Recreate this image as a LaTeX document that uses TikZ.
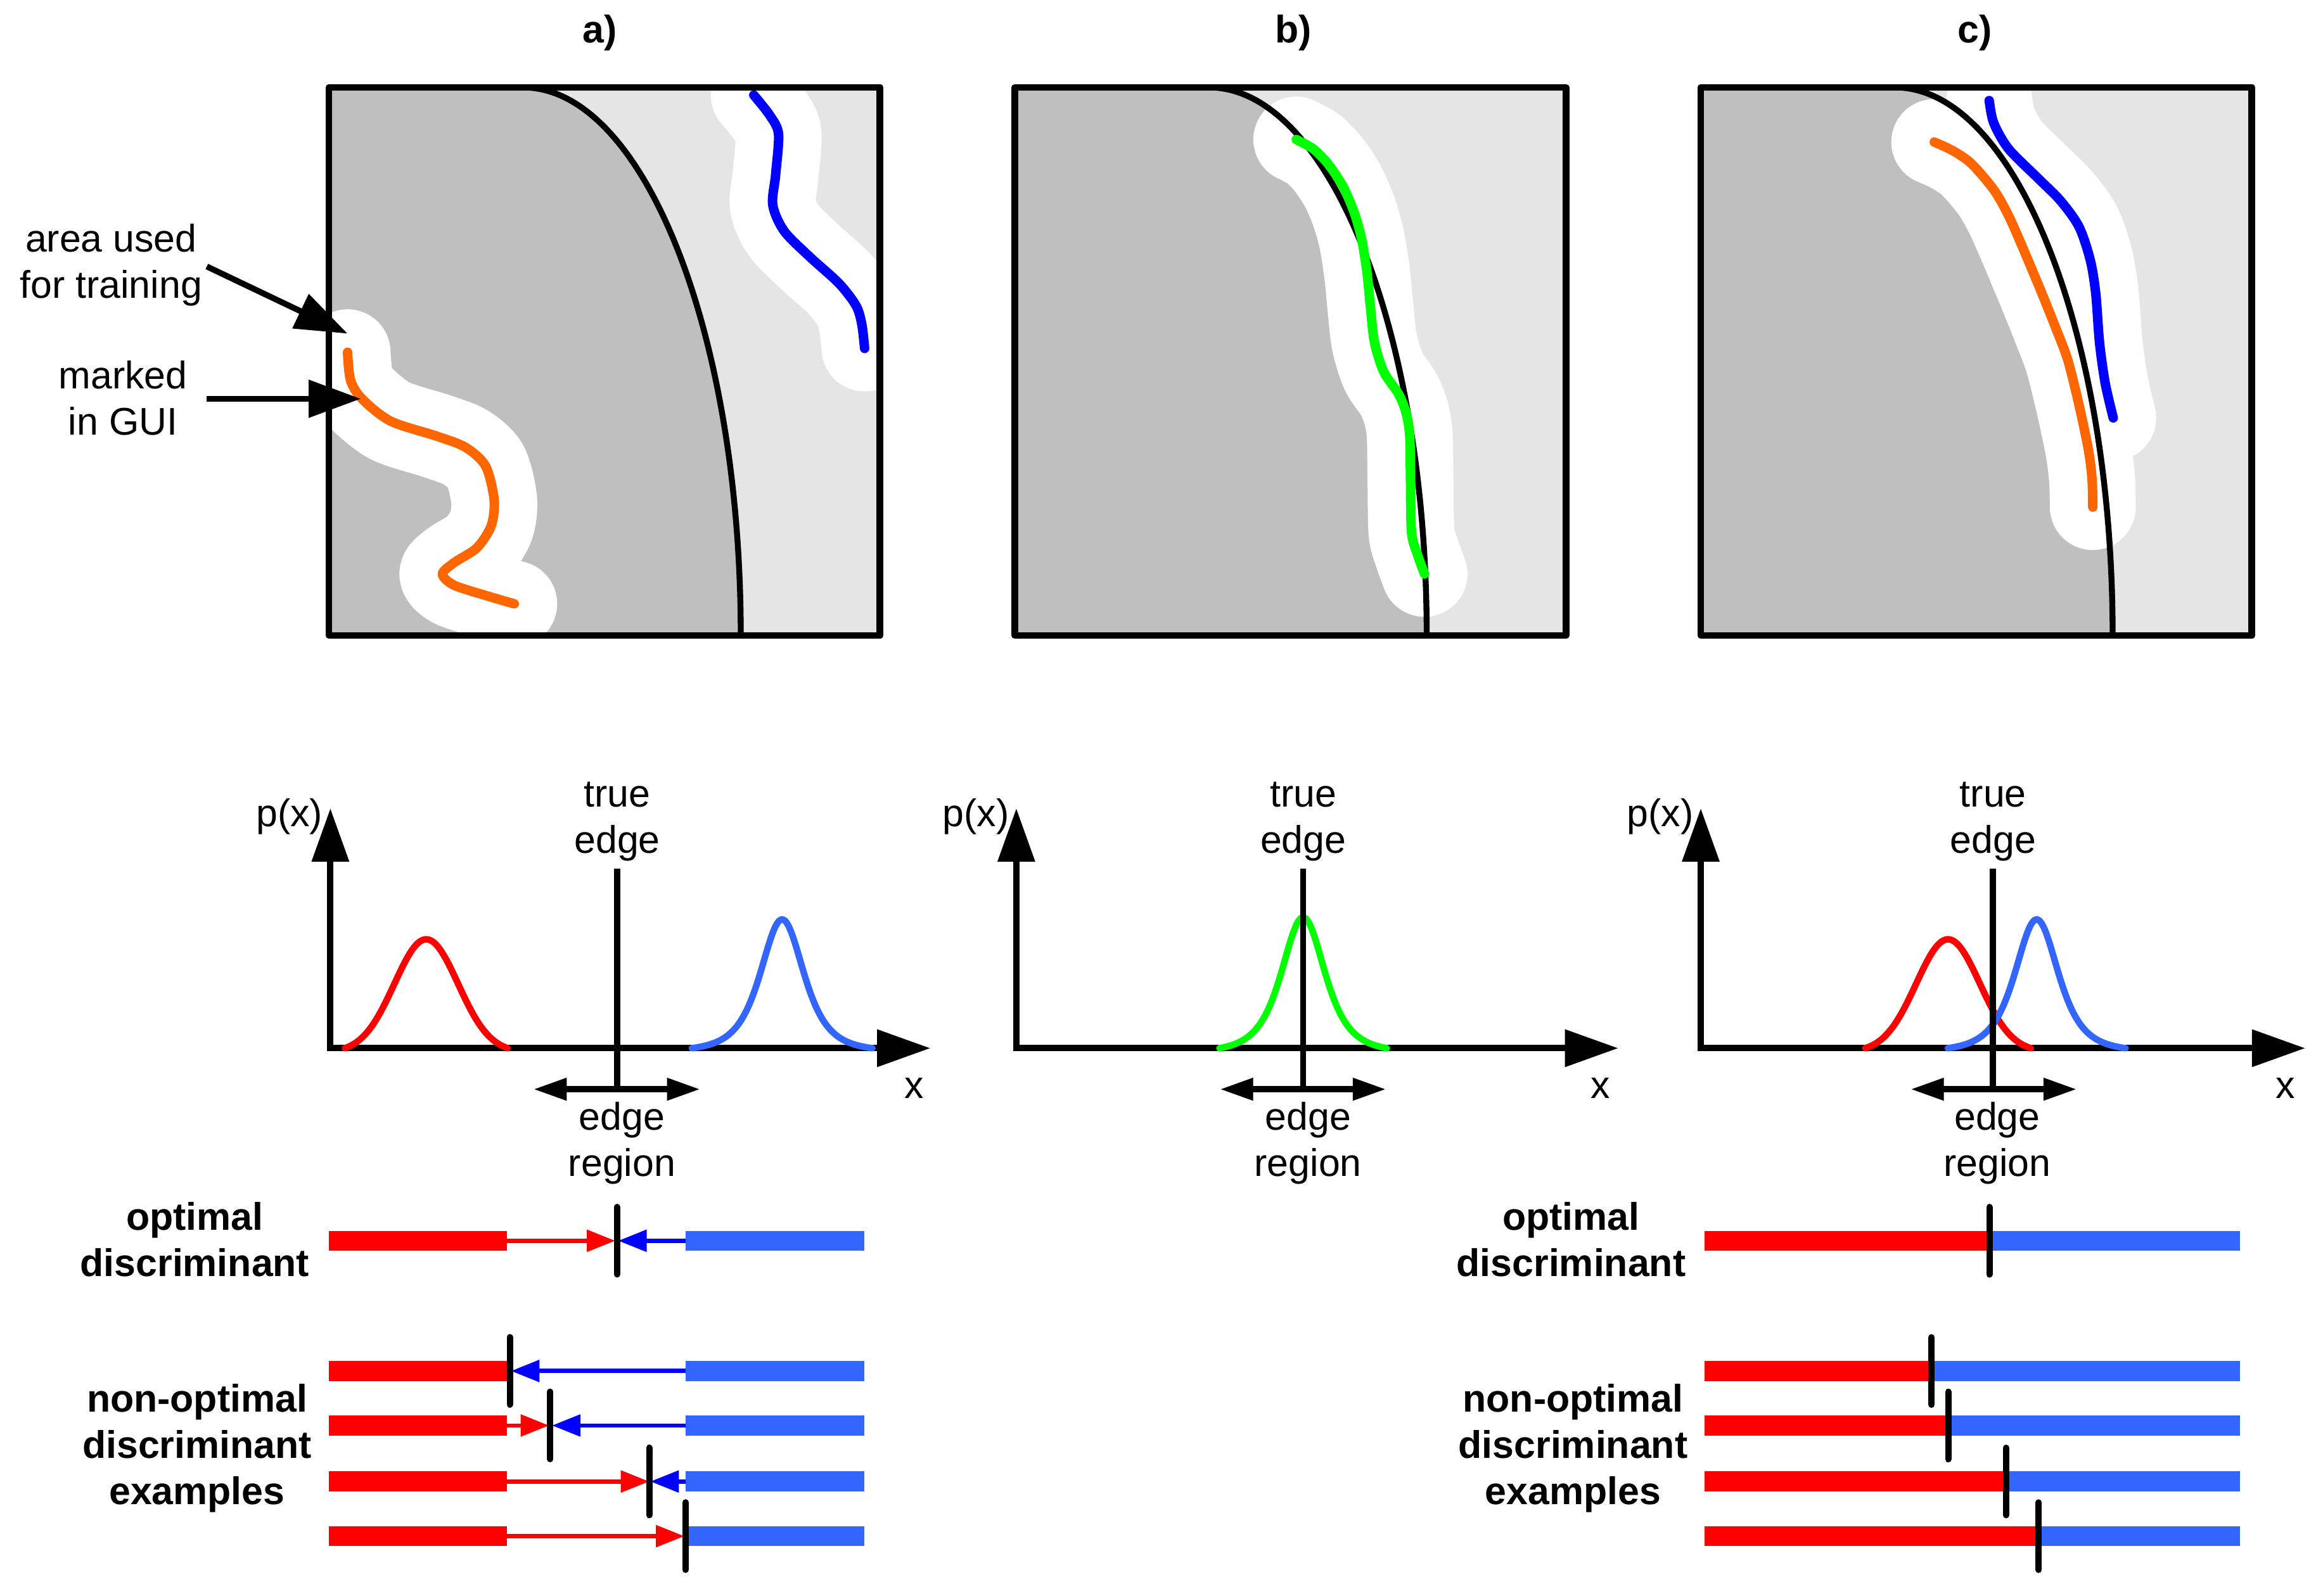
\documentclass[tikz,border=0pt]{standalone}
\usepackage{fontspec}
\setmainfont{Liberation Sans}
\usetikzlibrary{arrows.meta}
\definecolor{dgray}{RGB}{191,191,191}
\definecolor{lgray}{RGB}{229,229,229}
\definecolor{orng}{RGB}{255,102,0}
\definecolor{dblue}{RGB}{0,0,255}
\definecolor{lgreen}{RGB}{0,255,0}
\definecolor{rred}{RGB}{255,0,0}
\definecolor{lblue}{RGB}{51,102,255}
\newcommand\pnlback{%
  \fill[lgray] (222,59) rectangle (594,429);
  \fill[dgray] (222,59) -- (353,59) .. controls (434.2,59) and (500,224.6) .. (500,429) -- (222,429) -- cycle;}
\newcommand\pnledge{\draw[line width=1.0mm] (353,59) .. controls (434.2,59) and (500,224.6) .. (500,429);}
\newcommand\pnlframe{\draw[line width=1.15mm, line join=round] (222,59) rectangle (594,429);}
\begin{document}
\begin{tikzpicture}[x=0.25mm,y=-0.25mm,
  lbl/.style={font=\fontsize{18.5}{22.2}\selectfont, align=center, inner sep=0pt},
  blbl/.style={font=\fontsize{18.5}{22.2}\selectfont\bfseries, align=center, inner sep=0pt},
  band/.style={white, line width=14.5mm, line cap=round, line join=round},
  pcurve/.style={line width=1.6mm, line cap=round, line join=round},
  larrow/.style={line width=1.0mm, -{Triangle[length=8.8mm,width=6.2mm]}},
  axis/.style={line width=1.05mm, {Triangle[length=9mm,width=6.1mm]}-{Triangle[length=9mm,width=6.1mm]}},
  gcurve/.style={line width=1.1mm, line cap=round, line join=round},
  edgeline/.style={line width=1.0mm},
  regarrow/.style={line width=1.0mm, {Triangle[length=5.6mm,width=3.6mm]}-{Triangle[length=5.6mm,width=3.6mm]}},
  rarr/.style={rred, line width=0.72mm, -{Triangle[length=4.8mm,width=3.6mm]}},
  barr/.style={dblue, line width=0.72mm, -{Triangle[length=4.8mm,width=3.6mm]}},
  tickl/.style={line width=1.07mm, line cap=round}
]
\useasboundingbox (0,0) rectangle (1568,1077);

% ---------- titles
\node[blbl] (ta) at (405,22) {a)};
\node[blbl] (tb) at (873,22) {b)};
\node[blbl] (tc) at (1333,22) {c)};

% ---------- panel a
\pnlback
\begin{scope}
  \clip (222,59) rectangle (594,429);
  \draw[band] plot[smooth] coordinates {(234.6,237.8) (236.6,256.6) (244.3,269.2) (263.7,284.3) (294.7,294.4) (314.1,301.9) (327.7,314.5) (333.5,337.1) (331.6,354.8) (321.9,369.8) (306.4,379.9) (298.6,387.5) (306.4,395.0) (329.6,402.5) (347.1,407.6)};
  \draw[band] plot[smooth] coordinates {(508.8,64.2) (519.7,78) (525.5,90.6) (523.5,118.3) (521.6,138.4) (529.3,156) (546.8,173.6) (566.2,191.2) (577.8,206.3) (581.7,218.9) (583.6,235.2)};
\end{scope}
\pnledge
\draw[pcurve, orng] plot[smooth] coordinates {(234.6,237.8) (236.6,256.6) (244.3,269.2) (263.7,284.3) (294.7,294.4) (314.1,301.9) (327.7,314.5) (333.5,337.1) (331.6,354.8) (321.9,369.8) (306.4,379.9) (298.6,387.5) (306.4,395.0) (329.6,402.5) (347.1,407.6)};
\draw[pcurve, dblue] plot[smooth] coordinates {(508.8,64.2) (519.7,78) (525.5,90.6) (523.5,118.3) (521.6,138.4) (529.3,156) (546.8,173.6) (566.2,191.2) (577.8,206.3) (581.7,218.9) (583.6,235.2)};
\pnlframe

% ---------- panel b
\begin{scope}[shift={(463,0)}]\pnlback\end{scope}
\begin{scope}
  \clip (685,59) rectangle (1057,429);
  \draw[band] plot[smooth] coordinates {(875.0,94.2) (886.3,100.4) (896.3,110.5) (906.3,125.5) (913.9,143.0) (918.9,160.6) (922.6,183.1) (925.1,208.2) (927.7,230.8) (933.9,250.8) (943.9,265.8) (949.0,278.4) (951.5,293.4) (952.0,318.5) (952.7,358.6) (956.5,373.6) (961.5,387.4)};
\end{scope}
\begin{scope}[shift={(463,0)}]\pnledge\end{scope}
\draw[pcurve, lgreen] plot[smooth] coordinates {(875.0,94.2) (886.3,100.4) (896.3,110.5) (906.3,125.5) (913.9,143.0) (918.9,160.6) (922.6,183.1) (925.1,208.2) (927.7,230.8) (933.9,250.8) (943.9,265.8) (949.0,278.4) (951.5,293.4) (952.0,318.5) (952.7,358.6) (956.5,373.6) (961.5,387.4)};
\begin{scope}[shift={(463,0)}]\pnlframe\end{scope}

% ---------- panel c
\begin{scope}[shift={(926,0)}]\pnlback\end{scope}
\begin{scope}
  \clip (1148,59) rectangle (1520,429);
  \draw[band] plot[smooth] coordinates {(1305.6,95.9) (1318.1,101.7) (1330.7,110.5) (1345.7,128.0) (1355.7,145.5) (1365.7,168.1) (1378.3,198.2) (1388.3,223.2) (1395.8,243.3) (1403.3,273.4) (1409.6,303.4) (1412.1,323.5) (1412.6,342.3)};
  \draw[band] plot[smooth] coordinates {(1342.7,67.9) (1345.7,82.9) (1355.7,100.4) (1375.8,120.5) (1390.8,135.5) (1403.3,153.1) (1410.9,175.6) (1414.6,198.2) (1417.1,230.8) (1420.9,258.3) (1426.4,282.1)};
\end{scope}
\begin{scope}[shift={(926,0)}]\pnledge\end{scope}
\draw[pcurve, orng] plot[smooth] coordinates {(1305.6,95.9) (1318.1,101.7) (1330.7,110.5) (1345.7,128.0) (1355.7,145.5) (1365.7,168.1) (1378.3,198.2) (1388.3,223.2) (1395.8,243.3) (1403.3,273.4) (1409.6,303.4) (1412.1,323.5) (1412.6,342.3)};
\draw[pcurve, dblue] plot[smooth] coordinates {(1342.7,67.9) (1345.7,82.9) (1355.7,100.4) (1375.8,120.5) (1390.8,135.5) (1403.3,153.1) (1410.9,175.6) (1414.6,198.2) (1417.1,230.8) (1420.9,258.3) (1426.4,282.1)};
\begin{scope}[shift={(926,0)}]\pnlframe\end{scope}

% ---------- labels with arrows (panel a)
\node[lbl] (area) at (75,179) {area used\\for training};
\node[lbl] (marked) at (83,268.7) {marked\\in GUI};
\coordinate (areafrom) at (139.6,179.9);
\coordinate (areato) at (234.6,225.2);
\coordinate (markfrom) at (139.6,269.2);
\coordinate (markto) at (243.5,269.2);
\draw[larrow] (areafrom) -- (areato);
\draw[larrow] (markfrom) -- (markto);

% ---------- graph a
\coordinate (ya) at (223,545.7); \coordinate (oa) at (223,707.6); \coordinate (xxa) at (628,707.6);
\draw[axis] (ya) -- (oa) -- (xxa);
\draw[gcurve, rred] plot[domain=232.7:342.7, samples=90] (\x, {707.6 - 76.4*(exp(-(\x-287.7)*(\x-287.7)/924.5) - 0.0379)});
\draw[gcurve, lblue] plot[domain=466.9:588.9, samples=90] (\x, {707.6 - 89.40*(1/((1+(\x-527.9)*(\x-527.9)/729)*(1+(\x-527.9)*(\x-527.9)/729)) - 0.02684)});
\coordinate (eta) at (416.6,586.4); \coordinate (eba) at (416.6,736.6);
\draw[edgeline] (eta) -- (eba);
\coordinate (rla) at (360.1,735.3); \coordinate (rra) at (472.6,735.3);
\draw[regarrow] (rla) -- (rra);
\node[lbl] (pxa) at (195.4,551.3) {p(x)};
\node[lbl] (xa) at (617,734.7) {x};
\node[lbl] (tea) at (416.6,554.5) {true\\edge};
\node[lbl] (era) at (419.8,771.7) {edge\\region};

% ---------- graph b
\coordinate (yb) at (686,545.7); \coordinate (ob) at (686,707.6); \coordinate (xxb) at (1092.3,707.6);
\draw[axis] (yb) -- (ob) -- (xxb);
\draw[gcurve, lgreen] plot[domain=823.1:936.1, samples=90] (\x, {707.6 - 91.56*(1/((1+(\x-879.6)*(\x-879.6)/729)*(1+(\x-879.6)*(\x-879.6)/729)) - 0.03456)});
\coordinate (etb) at (879.6,586.4); \coordinate (ebb) at (879.6,736.6);
\draw[edgeline] (etb) -- (ebb);
\coordinate (rlb) at (823.5,735.3); \coordinate (rrb) at (935.5,735.3);
\draw[regarrow] (rlb) -- (rrb);
\node[lbl] (pxb) at (658.7,551.3) {p(x)};
\node[lbl] (xb) at (1080.4,734.7) {x};
\node[lbl] (teb) at (879.7,554.5) {true\\edge};
\node[lbl] (erb) at (882.9,771.7) {edge\\region};

% ---------- graph c
\coordinate (yc) at (1148,545.7); \coordinate (oc) at (1148,707.6); \coordinate (xxc) at (1556,707.6);
\draw[axis] (yc) -- (oc) -- (xxc);
\draw[gcurve, rred] plot[domain=1258.9:1370.9, samples=90] (\x, {707.6 - 76.06*(exp(-(\x-1314.9)*(\x-1314.9)/924.5) - 0.0336)});
\draw[gcurve, lblue] plot[domain=1314.7:1434.7, samples=90] (\x, {707.6 - 89.54*(1/((1+(\x-1374.7)*(\x-1374.7)/729)*(1+(\x-1374.7)*(\x-1374.7)/729)) - 0.02836)});
\coordinate (etc) at (1345.1,586.4); \coordinate (ebc) at (1345.1,736.6);
\draw[edgeline] (etc) -- (ebc);
\coordinate (rlc) at (1289.7,735.3); \coordinate (rrc) at (1401.7,735.3);
\draw[regarrow] (rlc) -- (rrc);
\node[lbl] (pxc) at (1120.7,551.3) {p(x)};
\node[lbl] (xc) at (1542.7,734.7) {x};
\node[lbl] (tec) at (1345.3,554.5) {true\\edge};
\node[lbl] (erc) at (1348.1,771.7) {edge\\region};

% ---------- discriminant bars (a)
\node[blbl] (opta) at (131.5,836.6) {optimal\\discriminant};
\node[blbl] (nopta) at (133,977.6) {non-optimal\\discriminant\\examples};
\foreach \yy in {837.6,925.5,962.3,1000.1,1037}{
  \fill[rred] (222,{\yy-6.75}) rectangle (342,{\yy+6.75});
  \fill[lblue] (462.7,{\yy-6.75}) rectangle (583.4,{\yy+6.75});
}
\draw[rarr] (342,837.6) -- (415.3,837.6);
\draw[barr] (462.7,837.6) -- (417.3,837.6);
\draw[tickl] (416.5,814.8) -- (416.5,860.3);
\draw[barr] (462.7,925.5) -- (344.9,925.5);
\draw[tickl] (344.1,902.7) -- (344.1,948.2);
\draw[rarr] (342,962.3) -- (370.6,962.3);
\draw[barr] (462.7,962.3) -- (372.6,962.3);
\draw[tickl] (371.4,939.5) -- (371.4,985.0);
\draw[rarr] (342,1000.1) -- (438.2,1000.1);
\draw[barr] (462.7,1000.1) -- (439.0,1000.1);
\draw[tickl] (438.2,977.3) -- (438.2,1022.8);
\draw[rarr] (342,1037) -- (461.9,1037);
\draw[tickl] (462.7,1014.2) -- (462.7,1059.7);

% ---------- discriminant bars (c)
\node[blbl] (optc) at (1060.5,836.6) {optimal\\discriminant};
\node[blbl] (noptc) at (1061.8,977.6) {non-optimal\\discriminant\\examples};
\foreach \yy/\xt in {837.6/1342.8,925.5/1303.8,962.3/1315,1000.1/1354,1037/1376}{
  \fill[rred] (1150.5,{\yy-6.75}) rectangle (\xt,{\yy+6.75});
  \fill[lblue] (\xt,{\yy-6.75}) rectangle (1512,{\yy+6.75});
  \draw[tickl] (\xt,{\yy-22.75}) -- (\xt,{\yy+22.75});
}
\end{tikzpicture}
\end{document}
